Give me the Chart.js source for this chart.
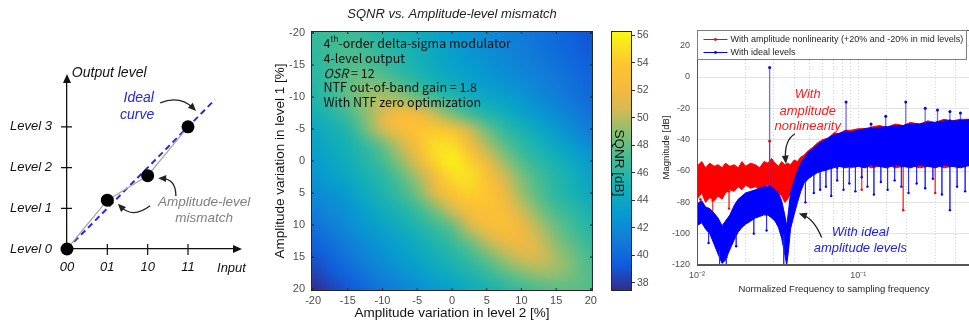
<!DOCTYPE html>
<html>
<head>
<meta charset="utf-8">
<script src="https://cdn.jsdelivr.net/npm/chart.js@4.4.1/dist/chart.umd.min.js"></script>
<style>
html, body { margin: 0; padding: 0; background: #fff; overflow: hidden; width: 969px; height: 327px; }
canvas { position: absolute; top: 0; }
</style>
</head>
<body>
<canvas id="levels" width="260" height="327" style="left:0px"></canvas>
<canvas id="heatmap" width="340" height="327" style="left:260px"></canvas>
<canvas id="colorbar" width="60" height="327" style="left:600px"></canvas>
<canvas id="spectrum" width="316" height="327" style="left:660px"></canvas>
<script>
"use strict"

// ---- left panel: quantizer levels
const inputCodes = ['00', '01', '10', '11'];
const levelNames = ['Level 0', 'Level 1', 'Level 2', 'Level 3'];
const levelActual = [0, 1.2, 1.8, 3.0];
const idealX = [0, 3.67];
const idealY = [0, 3.67];

// ---- middle panel: SQNR map, rows = level 1 variation (top -20), cols = level 2 variation
const mismatchTicks = [-20, -15, -10, -5, 0, 5, 10, 15, 20];
const mismatchGrid = [-20, -17.5, -15, -12.5, -10, -7.5, -5, -2.5, 0, 2.5, 5, 7.5, 10, 12.5, 15, 17.5, 20];
const sqnrGrid = [
    [46.5, 46.8, 46.8, 46.3, 45.6, 45.0, 44.5, 43.8, 43.0, 42.5, 42.0, 41.5, 41.0, 40.5, 40.0, 39.5, 39.0],
    [46.3, 46.9, 47.2, 46.9, 46.2, 45.5, 44.8, 44.0, 43.3, 42.7, 42.2, 41.7, 41.2, 40.7, 40.2, 39.7, 39.2],
    [46.0, 46.8, 47.4, 47.3, 46.6, 45.8, 45.0, 44.2, 43.5, 43.0, 42.5, 42.0, 41.5, 41.0, 40.5, 40.0, 39.5],
    [45.8, 46.8, 47.8, 48.4, 48.0, 47.0, 45.9, 45.0, 44.3, 43.6, 43.0, 42.4, 41.9, 41.4, 40.9, 40.4, 39.8],
    [45.5, 46.6, 47.8, 49.2, 49.8, 49.2, 48.0, 46.7, 45.5, 44.7, 44.0, 43.4, 42.8, 42.0, 41.3, 40.6, 40.0],
    [44.8, 45.8, 47.0, 48.8, 51.0, 52.4, 52.0, 50.2, 48.2, 46.6, 45.4, 44.5, 43.6, 42.8, 42.0, 41.3, 40.5],
    [44.0, 44.8, 45.7, 48.2, 50.8, 52.8, 53.6, 54.0, 53.0, 50.5, 48.0, 46.3, 45.0, 44.0, 43.0, 42.0, 41.0],
    [43.5, 44.3, 45.0, 46.3, 48.0, 50.3, 52.8, 55.0, 55.0, 52.5, 49.8, 47.7, 46.2, 45.0, 44.0, 43.0, 42.0],
    [43.0, 43.8, 44.6, 45.8, 47.0, 49.0, 51.5, 54.5, 56.0, 54.3, 51.8, 49.3, 47.3, 46.0, 45.0, 44.0, 43.0],
    [42.5, 43.3, 44.0, 45.0, 46.0, 47.5, 49.5, 52.0, 54.8, 55.3, 53.2, 50.7, 48.6, 47.0, 45.8, 44.8, 43.5],
    [42.0, 42.5, 43.2, 44.3, 45.4, 46.7, 48.3, 51.3, 53.5, 54.4, 53.8, 51.8, 49.3, 47.5, 46.0, 45.0, 44.0],
    [41.3, 41.9, 42.5, 43.5, 44.5, 45.5, 46.8, 48.5, 50.8, 52.8, 53.4, 52.6, 50.5, 48.5, 47.0, 46.0, 45.0],
    [40.5, 41.3, 42.1, 43.0, 43.7, 44.6, 45.5, 46.8, 48.0, 50.7, 52.6, 52.9, 51.8, 49.8, 48.0, 46.8, 45.5],
    [39.8, 40.5, 41.3, 42.1, 42.9, 43.7, 44.5, 45.5, 46.7, 48.2, 50.2, 51.7, 51.9, 50.6, 48.8, 47.5, 46.3],
    [39.0, 39.8, 40.7, 41.6, 42.3, 43.1, 43.9, 44.8, 45.5, 46.7, 48.0, 49.6, 50.7, 50.9, 49.6, 48.3, 47.0],
    [38.3, 39.1, 39.9, 40.8, 41.6, 42.4, 43.1, 43.9, 44.6, 45.5, 46.5, 47.6, 48.6, 49.3, 49.2, 48.3, 47.3],
    [37.5, 38.3, 39.1, 40.0, 40.8, 41.5, 42.2, 42.9, 43.5, 44.3, 45.0, 45.8, 46.6, 47.2, 47.6, 47.7, 47.5]
];
const sqnrTicks = [38, 40, 42, 44, 46, 48, 50, 52, 54, 56];
const sqnrMin = 37.4;
const sqnrMax = 56.3;

// ---- right panel: output spectrum
const specTicksY = [-120, -100, -80, -60, -40, -20, 0, 20];
const legendLabels = ['With amplitude nonlinearity (+20% and -20% in mid levels)', 'With ideal levels'];

const redF  = [0.010, 0.0107, 0.0113, 0.012, 0.0128, 0.0135, 0.0143, 0.015, 0.016, 0.017,
               0.018, 0.019, 0.020, 0.0215, 0.023, 0.0245, 0.026, 0.0275, 0.029, 0.0305,
               0.032, 0.0335, 0.035, 0.0365, 0.038, 0.040, 0.042, 0.044, 0.046,
               0.049, 0.052, 0.056, 0.060, 0.065, 0.070, 0.076, 0.083, 0.090, 0.10,
               0.11, 0.12, 0.135, 0.15, 0.17, 0.19, 0.21, 0.24, 0.27, 0.30,
               0.34, 0.38, 0.43, 0.5];
const redHi = [-57, -54, -58, -55, -57, -56, -58, -55, -57, -56,
               -58, -54, -57, -55, -56, -58, -54, -55, -52, -55,
               -57, -54, -56, -55, -56, -53, -54, -51, -50,
               -47, -45, -42, -40, -39, -36, -36, -34, -34, -33,
               -33, -32, -31, -32, -30, -31, -29, -30, -28, -29,
               -27, -28, -27, -27];
const redLo = [-78, -74, -80, -77, -79, -76, -78, -74, -72, -73,
               -70, -72, -69, -71, -70, -72, -71, -69, -70, -72,
               -74, -76, -80, -78, -74, -70, -66, -62, -58,
               -63, -61, -60, -59, -58, -57, -57, -56, -58, -57,
               -56, -58, -57, -56, -58, -57, -56, -58, -57, -56,
               -58, -57, -56, -57];

const blueF  = [0.010, 0.0107, 0.0113, 0.012, 0.0128, 0.0135, 0.0143, 0.015, 0.016, 0.017,
                0.018, 0.019, 0.020, 0.0215, 0.023, 0.0245, 0.026, 0.0275, 0.029, 0.0305,
                0.032, 0.0335, 0.035, 0.036, 0.037, 0.038, 0.040, 0.042, 0.044, 0.046,
                0.049, 0.052, 0.056, 0.060, 0.065, 0.070, 0.076, 0.083, 0.090, 0.10,
                0.11, 0.12, 0.135, 0.15, 0.17, 0.19, 0.21, 0.24, 0.27, 0.30,
                0.34, 0.38, 0.43, 0.5];
const blueHi = [-81, -79, -83, -84, -87, -90, -95, -92, -88, -82,
                -78, -76, -74, -73, -72, -71, -70, -70, -70, -72,
                -74, -79, -88, -95, -85, -74, -66, -60, -55, -52,
                -48, -46, -43, -41, -39, -37, -36, -35, -35, -34,
                -33, -33, -32, -32, -31, -31, -30, -30, -29, -29,
                -28, -28, -28, -27];
const blueLo = [-95, -93, -97, -100, -107, -113, -119, -117, -110, -104,
                -99, -96, -94, -92, -90, -89, -88, -88, -90, -92,
                -96, -103, -113, -120, -110, -97, -88, -80, -73, -68,
                -65, -63, -61, -60, -59, -58, -57, -58, -57, -57,
                -58, -56, -57, -58, -56, -57, -58, -56, -57, -58,
                -56, -57, -58, -56];

const blueDipF   = [0.0118, 0.0138, 0.0152, 0.0175, 0.0225, 0.027, 0.0345, 0.047, 0.053, 0.058,
                    0.063, 0.068, 0.074, 0.081, 0.088, 0.096, 0.105, 0.114, 0.125, 0.138,
                    0.152, 0.168, 0.185, 0.205, 0.23, 0.26, 0.29, 0.33, 0.37, 0.41, 0.46];
const blueDipTop = [-98, -110, -115, -100, -90, -88, -100, -66, -62, -60,
                    -59, -58, -58, -57, -57, -57, -57, -57, -57, -57,
                    -57, -57, -57, -57, -57, -57, -57, -57, -57, -57, -57];
const blueDipLo  = [-106, -121, -121, -108, -100, -98, -121, -80, -74, -72,
                    -70, -76, -66, -72, -68, -73, -64, -70, -75, -67,
                    -72, -66, -70, -74, -68, -71, -65, -75, -85, -70, -73];

const redDipF   = [0.0105, 0.0125, 0.0158, 0.030, 0.105, 0.19, 0.30];
const redDipTop = [-78, -79, -73, -72, -57, -57, -57];
const redDipLo  = [-86, -90, -84, -80, -72, -85, -74];

const toneF     = [0.0282, 0.084, 0.12, 0.148, 0.197, 0.26, 0.31, 0.37, 0.43];
const toneBase  = [-70, -35, -33, -32, -31, -30, -29, -28, -28];
const tonePeak  = [6, -16, -30, -25, -16, -20, -21, -22, -23];
const redToneF    = [0.0282];
const redToneBase = [-56];
const redTonePeak = [-41];


const FONT = 'Arial, "Liberation Sans", sans-serif';
const PARULA = [
    [0.00, 53, 42, 135], [0.10, 15, 92, 221], [0.20, 18, 125, 216], [0.30, 7, 156, 207],
    [0.40, 21, 177, 180], [0.50, 60, 187, 150], [0.60, 130, 191, 118], [0.70, 212, 186, 84],
    [0.77, 243, 185, 64], [0.87, 254, 196, 48], [0.94, 248, 225, 35], [1.00, 249, 251, 14]
];


window.onload = () =>
{
    levels();
    heatmap();
    colorbar();
    spectrum();
}


function parula(t)
{
    t = Math.max(0, Math.min(1, t));
    for (let i = 1; i < PARULA.length; i++)
    {
        if (t <= PARULA[i][0])
        {
            const a = PARULA[i - 1], b = PARULA[i];
            const k = (t - a[0]) / (b[0] - a[0]);
            return [1, 2, 3].map(j => Math.round(a[j] + k * (b[j] - a[j])));
        }
    }
    return PARULA[PARULA.length - 1].slice(1);
}


function arrow(ctx, p0, pc, p1, color)
{
    ctx.save();
    ctx.strokeStyle = color;
    ctx.fillStyle = color;
    ctx.lineWidth = 1.3;
    const a = Math.atan2(p1[1] - pc[1], p1[0] - pc[0]);
    ctx.beginPath();
    ctx.moveTo(p0[0], p0[1]);
    ctx.quadraticCurveTo(pc[0], pc[1], p1[0] - 4 * Math.cos(a), p1[1] - 4 * Math.sin(a));
    ctx.stroke();
    ctx.beginPath();
    ctx.moveTo(p1[0], p1[1]);
    ctx.lineTo(p1[0] - 8 * Math.cos(a) + 3.5 * Math.sin(a), p1[1] - 8 * Math.sin(a) - 3.5 * Math.cos(a));
    ctx.lineTo(p1[0] - 8 * Math.cos(a) - 3.5 * Math.sin(a), p1[1] - 8 * Math.sin(a) + 3.5 * Math.cos(a));
    ctx.closePath();
    ctx.fill();
    ctx.restore();
}


function at(chart, x, y)
{
    return [chart.scales.x.getPixelForValue(x), chart.scales.y.getPixelForValue(y)];
}


function levels()
{
    const decor =
    {
        id: 'levelsDecor',
        afterDraw(chart)
        {
            const ctx = chart.ctx;
            const ca = chart.chartArea;
            ctx.save();
            ctx.strokeStyle = '#111';
            ctx.fillStyle = '#111';
            ctx.lineWidth = 1.2;
            for (let i = 1; i < inputCodes.length; i++)
            {
                const x = chart.scales.x.getPixelForValue(i);
                const y = chart.scales.y.getPixelForValue(i);
                ctx.beginPath();
                ctx.moveTo(x, ca.bottom - 5); ctx.lineTo(x, ca.bottom + 6);
                ctx.moveTo(ca.left - 6, y); ctx.lineTo(ca.left + 5, y);
                ctx.stroke();
            }
            // axis arrow heads
            ctx.beginPath();
            ctx.moveTo(ca.right + 4, ca.bottom);
            ctx.lineTo(ca.right - 5, ca.bottom - 4);
            ctx.lineTo(ca.right - 5, ca.bottom + 4);
            ctx.closePath(); ctx.fill();
            ctx.beginPath();
            ctx.moveTo(ca.left, ca.top - 4);
            ctx.lineTo(ca.left - 4, ca.top + 5);
            ctx.lineTo(ca.left + 4, ca.top + 5);
            ctx.closePath(); ctx.fill();

            ctx.textBaseline = 'middle';
            ctx.font = 'italic 14px ' + FONT;
            ctx.textAlign = 'left';
            let p = at(chart, 0.12, 4.32);
            ctx.fillText('Output level', p[0], p[1]);
            ctx.font = 'italic 13px ' + FONT;
            p = at(chart, 3.72, -0.47);
            ctx.fillText('Input', p[0], p[1]);

            ctx.textAlign = 'center';
            ctx.font = 'italic 14px ' + FONT;
            ctx.fillStyle = '#2323e6';
            p = at(chart, 1.78, 3.71);
            ctx.fillText('Ideal', p[0], p[1]);
            p = at(chart, 1.74, 3.29);
            ctx.fillText('curve', p[0], p[1]);

            ctx.font = 'italic 13.5px ' + FONT;
            ctx.fillStyle = '#808080';
            p = at(chart, 3.40, 1.15);
            ctx.fillText('Amplitude-level', p[0], p[1]);
            p = at(chart, 3.40, 0.76);
            ctx.fillText('mismatch', p[0], p[1]);
            ctx.restore();

            arrow(ctx, at(chart, 2.31, 3.59), at(chart, 2.80, 3.78), at(chart, 3.20, 3.39), '#222');
            arrow(ctx, at(chart, 2.06, 1.06), at(chart, 1.64, 0.74), at(chart, 1.26, 1.11), '#222');
            arrow(ctx, at(chart, 2.70, 1.30), at(chart, 2.70, 1.72), at(chart, 2.26, 1.74), '#222');
        }
    };

    const tickFont = { family: FONT, size: 13, style: 'italic' };

    new Chart(document.getElementById('levels').getContext('2d'),
    {
        type: 'scatter',
        data:
        {
            datasets:
            [{
                data: levelActual.map((v, i) => ({ x: i, y: v })),
                showLine: true,
                borderColor: '#a6a6a6',
                borderWidth: 1.2,
                backgroundColor: '#000',
                pointBackgroundColor: '#000',
                pointBorderWidth: 0,
                pointRadius: 6.5,
                clip: false,
                order: 0
            },
            {
                data: idealX.map((v, i) => ({ x: v, y: idealY[i] })),
                showLine: true,
                borderColor: '#2a2ae8',
                borderWidth: 2,
                borderDash: [6, 4],
                pointRadius: 0,
                clip: false,
                order: 1
            }]
        },
        options:
        {
            responsive: false,
            animation: false,
            events: [],
            layout: { padding: { left: 0, right: 22, top: 78, bottom: 0 } },
            plugins: { legend: { display: false }, tooltip: { enabled: false } },
            scales:
            {
                x:
                {
                    min: 0, max: 4.24,
                    afterFit: s => { s.height = 78 },
                    afterBuildTicks: s => { s.ticks = inputCodes.map((c, i) => ({ value: i })) },
                    ticks: { callback: v => inputCodes[v], font: tickFont, color: '#111', padding: 11, maxRotation: 0 },
                    grid: { display: false, drawTicks: false },
                    border: { color: '#111', width: 1.3 }
                },
                y:
                {
                    min: 0, max: 4.2,
                    afterFit: s => { s.width = 67 },
                    afterBuildTicks: s => { s.ticks = levelNames.map((c, i) => ({ value: i })) },
                    ticks: { callback: v => levelNames[v], font: tickFont, color: '#111', padding: 15 },
                    grid: { display: false, drawTicks: false },
                    border: { color: '#111', width: 1.3 }
                }
            }
        },
        plugins: [decor]
    });
}


function heatmap()
{
    const paint =
    {
        id: 'sqnrPaint',
        beforeDatasetsDraw(chart)
        {
            const rows = sqnrGrid.length, cols = sqnrGrid[0].length;
            const off = document.createElement('canvas');
            off.width = cols;
            off.height = rows;
            const octx = off.getContext('2d');
            const img = octx.createImageData(cols, rows);
            sqnrGrid.forEach((row, r) => row.forEach((v, c) =>
            {
                const rgb = parula((v - sqnrMin) / (sqnrMax - sqnrMin));
                const k = (r * cols + c) * 4;
                img.data[k] = rgb[0]; img.data[k + 1] = rgb[1]; img.data[k + 2] = rgb[2]; img.data[k + 3] = 255;
            }));
            octx.putImageData(img, 0, 0);

            // each grid value sits at the centre of its own cell
            const half = (mismatchGrid[1] - mismatchGrid[0]) / 2;
            const first = mismatchGrid[0] - half, last = mismatchGrid[mismatchGrid.length - 1] + half;
            const x0 = chart.scales.x.getPixelForValue(first), x1 = chart.scales.x.getPixelForValue(last);
            const y0 = chart.scales.y.getPixelForValue(first), y1 = chart.scales.y.getPixelForValue(last);
            const ca = chart.chartArea;
            const ctx = chart.ctx;
            ctx.save();
            ctx.beginPath();
            ctx.rect(ca.left, ca.top, ca.right - ca.left, ca.bottom - ca.top);
            ctx.clip();
            ctx.imageSmoothingEnabled = true;
            ctx.imageSmoothingQuality = 'high';
            ctx.drawImage(off, x0, y0, x1 - x0, y1 - y0);
            ctx.filter = 'blur(3px)';
            ctx.drawImage(off, x0, y0, x1 - x0, y1 - y0);
            ctx.restore();
        },
        afterDraw(chart)
        {
            const ctx = chart.ctx;
            const ca = chart.chartArea;
            ctx.save();
            ctx.strokeStyle = '#262626';
            ctx.lineWidth = 1;
            ctx.strokeRect(ca.left + 0.5, ca.top + 0.5, ca.right - ca.left - 1, ca.bottom - ca.top - 1);
            ctx.beginPath();
            mismatchTicks.forEach(t =>
            {
                const x = chart.scales.x.getPixelForValue(t);
                const y = chart.scales.y.getPixelForValue(t);
                ctx.moveTo(x, ca.bottom); ctx.lineTo(x, ca.bottom - 3);
                ctx.moveTo(x, ca.top); ctx.lineTo(x, ca.top + 3);
                ctx.moveTo(ca.left, y); ctx.lineTo(ca.left + 3, y);
                ctx.moveTo(ca.right, y); ctx.lineTo(ca.right - 3, y);
            });
            ctx.stroke();

            // title
            ctx.fillStyle = '#222';
            ctx.textAlign = 'center';
            ctx.textBaseline = 'middle';
            ctx.font = 'italic 13px ' + FONT;
            ctx.fillText('SQNR vs. Amplitude-level mismatch', (ca.left + ca.right) / 2, 14);

            // settings box text
            const face = '"Noto Sans CJK KR", "Noto Sans", sans-serif';
            ctx.fillStyle = '#111';
            ctx.textAlign = 'left';
            const x = chart.scales.x.getPixelForValue(-18.5);
            const line = v => chart.scales.y.getPixelForValue(v);
            ctx.font = '12.5px ' + face;
            ctx.fillText('4', x, line(-18.4));
            let w = ctx.measureText('4').width;
            ctx.font = '8px ' + face;
            ctx.fillText('th', x + w, line(-18.4) - 4);
            w += ctx.measureText('th').width;
            ctx.font = '12.5px ' + face;
            ctx.fillText('-order delta-sigma modulator', x + w, line(-18.4));
            ctx.fillText('4-level output', x, line(-16.1));
            ctx.font = 'italic 12.5px ' + face;
            ctx.fillText('OSR', x, line(-13.75));
            w = ctx.measureText('OSR').width;
            ctx.font = '12.5px ' + face;
            ctx.fillText(' = 12', x + w, line(-13.75));
            ctx.fillText('NTF out-of-band gain = 1.8', x, line(-11.5));
            ctx.fillText('With NTF zero optimization', x, line(-9.2));
            ctx.restore();
        }
    };

    const tickFont = { family: FONT, size: 11 };
    const titleFont = { family: FONT, size: 13.5 };

    new Chart(document.getElementById('heatmap').getContext('2d'),
    {
        type: 'scatter',
        data: { datasets: [] },
        options:
        {
            responsive: false,
            animation: false,
            events: [],
            layout: { padding: { left: 0, right: 3, top: 31, bottom: 0 } },
            plugins: { legend: { display: false }, tooltip: { enabled: false } },
            scales:
            {
                x:
                {
                    min: -20.3, max: 20.3,
                    afterFit: s => { s.height = 36 },
                    afterBuildTicks: s => { s.ticks = mismatchTicks.map(v => ({ value: v })) },
                    ticks: { font: tickFont, color: '#4d4d4d', padding: 3, maxRotation: 0 },
                    grid: { display: false, drawTicks: false },
                    border: { display: false },
                    title: { display: true, text: 'Amplitude variation in level 2 [%]', font: titleFont, color: '#111', padding: { top: 0, bottom: 6 } }
                },
                y:
                {
                    min: -20.3, max: 20.3,
                    reverse: true,
                    afterFit: s => { s.width = 51 },
                    afterBuildTicks: s => { s.ticks = mismatchTicks.map(v => ({ value: v })) },
                    ticks: { font: tickFont, color: '#4d4d4d', padding: 6 },
                    grid: { display: false, drawTicks: false },
                    border: { display: false },
                    title: { display: true, text: 'Amplitude variation in level 1 [%]', font: titleFont, color: '#111', padding: { top: 12, bottom: 0 } }
                }
            }
        },
        plugins: [paint]
    });
}


function colorbar()
{
    const paint =
    {
        id: 'barPaint',
        beforeDatasetsDraw(chart)
        {
            const ctx = chart.ctx;
            const ca = chart.chartArea;
            const ys = chart.scales.y;
            ctx.save();
            for (let y = Math.floor(ca.top); y < ca.bottom; y++)
            {
                const rgb = parula((ys.getValueForPixel(y + 0.5) - sqnrMin) / (sqnrMax - sqnrMin));
                ctx.fillStyle = 'rgb(' + rgb.join(',') + ')';
                ctx.fillRect(ca.left, y, ca.right - ca.left, 1);
            }
            ctx.strokeStyle = '#262626';
            ctx.lineWidth = 1;
            ctx.strokeRect(ca.left + 0.5, ca.top + 0.5, ca.right - ca.left - 1, ca.bottom - ca.top - 1);

            ctx.translate(ca.left + 8, (ca.top + ca.bottom) / 2 + 2);
            ctx.rotate(Math.PI / 2);
            ctx.fillStyle = '#111';
            ctx.textAlign = 'center';
            ctx.textBaseline = 'middle';
            ctx.font = '13.5px ' + FONT;
            ctx.fillText('SQNR [dB]', 0, 0);
            ctx.restore();
        }
    };

    new Chart(document.getElementById('colorbar').getContext('2d'),
    {
        type: 'scatter',
        data: { datasets: [] },
        options:
        {
            responsive: false,
            animation: false,
            events: [],
            layout: { padding: { left: 11, right: 0, top: 31, bottom: 36 } },
            plugins: { legend: { display: false }, tooltip: { enabled: false } },
            scales:
            {
                x: { display: false, min: 0, max: 1 },
                y:
                {
                    position: 'right',
                    min: sqnrMin, max: sqnrMax,
                    afterFit: s => { s.width = 28 },
                    afterBuildTicks: s => { s.ticks = sqnrTicks.map(v => ({ value: v })) },
                    ticks: { font: { family: FONT, size: 10.5 }, color: '#4d4d4d', padding: 2 },
                    grid: { drawOnChartArea: false, drawTicks: true, tickLength: 3, color: '#333' },
                    border: { display: false }
                }
            }
        },
        plugins: [paint]
    });
}


function spectrum()
{
    const band = (f, hi, lo) => f.map((v, i) => ({ x: v, y: hi[i] }))
                                  .concat(f.map((v, i) => ({ x: v, y: lo[i] })).reverse());
    const sticks = (f, a, b) => f.flatMap((v, i) => [{ x: v, y: a[i] }, { x: v, y: b[i] }, { x: v, y: null }]);

    const red = '#ff0000';
    const blue = '#0000ff';

    const decor =
    {
        id: 'specDecor',
        afterDraw(chart)
        {
            const ctx = chart.ctx;
            const ca = chart.chartArea;
            ctx.save();
            ctx.strokeStyle = '#555';
            ctx.lineWidth = 1;
            ctx.strokeRect(ca.left + 0.5, ca.top + 0.5, ca.right - ca.left, ca.bottom - ca.top - 1);

            // legend
            const lx = ca.left + 0.5, ly = ca.top + 0.5;
            ctx.fillStyle = '#fff';
            ctx.fillRect(lx, ly, 269, 29);
            ctx.strokeStyle = '#7f7f7f';
            ctx.strokeRect(lx, ly, 269, 29);
            ctx.font = '9px ' + FONT;
            ctx.textBaseline = 'middle';
            ctx.textAlign = 'left';
            [red, blue].forEach((c, i) =>
            {
                const y = ly + 9 + i * 13;
                ctx.strokeStyle = c;
                ctx.fillStyle = c;
                ctx.beginPath(); ctx.moveTo(lx + 6, y); ctx.lineTo(lx + 30, y); ctx.stroke();
                ctx.beginPath(); ctx.arc(lx + 18, y, 1.4, 0, 2 * Math.PI); ctx.fill();
                ctx.fillStyle = '#262626';
                ctx.fillText(legendLabels[i], lx + 33, y);
            });

            ctx.textAlign = 'center';
            ctx.font = 'italic 13px ' + FONT;
            ctx.fillStyle = '#ff1a1a';
            let p = at(chart, 0.0486, -11.3);
            ctx.fillText('With', p[0], p[1]);
            p = at(chart, 0.0486, -22.0);
            ctx.fillText('amplitude', p[0], p[1]);
            p = at(chart, 0.0486, -31.8);
            ctx.fillText('nonlinearity', p[0], p[1]);
            ctx.fillStyle = '#2020ee';
            p = at(chart, 0.103, -99.4);
            ctx.fillText('With ideal', p[0], p[1]);
            p = at(chart, 0.103, -109.6);
            ctx.fillText('amplitude levels', p[0], p[1]);
            ctx.restore();

            arrow(ctx, at(chart, 0.0405, -36.2), at(chart, 0.0346, -40.6), at(chart, 0.0356, -55.3), '#222');
            arrow(ctx, at(chart, 0.0593, -102.5), at(chart, 0.0530, -90.4), at(chart, 0.0428, -87.2), '#222');
        }
    };

    const supers = { '-2': '\u207B\u00B2', '-1': '\u207B\u00B9' };

    new Chart(document.getElementById('spectrum').getContext('2d'),
    {
        type: 'line',
        data:
        {
            datasets:
            [
                { data: band(redF, redHi, redLo), fill: 'shape', backgroundColor: red, borderColor: red, borderWidth: 1, pointRadius: 0, order: 6 },
                { data: sticks(redDipF, redDipTop, redDipLo), borderColor: 'rgba(255,60,60,0.8)', borderWidth: 1, pointRadius: 1.2, pointBackgroundColor: red, pointBorderWidth: 0, order: 5 },
                { data: sticks(redToneF, redToneBase, redTonePeak), borderColor: red, borderWidth: 1, pointRadius: 1.4, pointBackgroundColor: red, pointBorderWidth: 0, order: 5 },
                { data: band(blueF, blueHi, blueLo), fill: 'shape', backgroundColor: blue, borderColor: blue, borderWidth: 1, pointRadius: 0, order: 3 },
                { data: sticks(blueDipF, blueDipTop, blueDipLo), borderColor: 'rgba(40,40,255,0.75)', borderWidth: 1, pointRadius: 1.2, pointBackgroundColor: blue, pointBorderWidth: 0, order: 2 },
                { data: sticks(toneF, toneBase, tonePeak), borderColor: 'rgba(60,60,255,0.75)', borderWidth: 1.3, pointRadius: 1.5, pointBackgroundColor: blue, pointBorderWidth: 0, order: 1 }
            ]
        },
        options:
        {
            responsive: false,
            animation: false,
            events: [],
            spanGaps: false,
            layout: { padding: { left: 0, right: 2, top: 30, bottom: 0 } },
            plugins: { legend: { display: false }, tooltip: { enabled: false } },
            scales:
            {
                x:
                {
                    type: 'logarithmic',
                    min: 0.01, max: 0.5,
                    afterFit: s => { s.height = 62 },
                    ticks:
                    {
                        autoSkip: false, maxRotation: 0, padding: 5,
                        font: { family: FONT, size: 9 }, color: '#4d4d4d',
                        callback: v =>
                        {
                            const e = Math.log10(v);
                            const r = Math.round(e);
                            return Math.abs(e - r) < 1e-6 && supers[r] ? '10' + supers[r] : '';
                        }
                    },
                    grid: { color: '#d9d9d9', drawTicks: false },
                    border: { color: '#555', dash: [1, 2] },
                    title: { display: true, text: 'Normalized Frequency to sampling frequency', font: { family: FONT, size: 9.5 }, color: '#262626', padding: { top: 0, bottom: 32 } }
                },
                y:
                {
                    min: -120, max: 30,
                    afterFit: s => { s.width = 37 },
                    afterBuildTicks: s => { s.ticks = specTicksY.map(v => ({ value: v })) },
                    ticks: { font: { family: FONT, size: 9 }, color: '#4d4d4d', padding: 7 },
                    grid: { color: '#e3e3e3', drawTicks: false },
                    border: { color: '#555' },
                    title: { display: true, text: 'Magnitude [dB]', font: { family: FONT, size: 9.5 }, color: '#262626', padding: { top: 1, bottom: 0 } }
                }
            }
        },
        plugins: [decor]
    });
}
</script>
</body>
</html>
